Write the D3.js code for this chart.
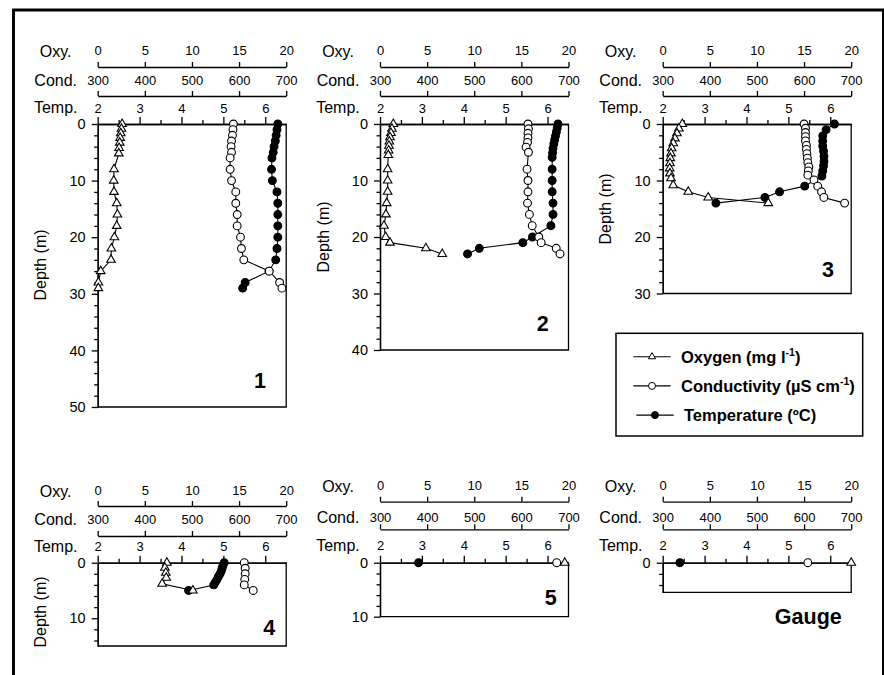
<!DOCTYPE html>
<html>
<head>
<meta charset="utf-8">
<script src="https://cdn.jsdelivr.net/npm/d3@7"></script>
<style>
	body { margin: 0; background: #fff; }
	text { font-family: 'Liberation Sans', Arial, sans-serif; fill: #000; }
</style>
</head>
<body>
<svg id="chart" width="884" height="675"></svg>
<script>
'use strict'

// labelled ticks of the three stacked x axes
const oxyTicks = [0, 5, 10, 15, 20]
const condTicks = [300, 400, 500, 600, 700]
const tempTicks = [2, 3, 4, 5, 6]

// site 1
const oxyDepth1 = [0, 0.85, 1.65, 2.45, 3.3, 4.25, 5.2, 8, 10, 12, 14, 16, 18, 20, 22, 24, 26, 28, 29]
const oxy1 = [2.59, 2.52, 2.45, 2.38, 2.34, 2.27, 2.24, 1.73, 1.70, 1.73, 2.02, 2.09, 2.02, 1.77, 1.45, 1.41, 0.32, 0.07, 0.07]
const condDepth1 = [0, 1, 2, 3, 4, 5, 6, 8, 10, 12, 14, 16, 18, 20, 22, 24, 26, 28, 29]
const cond1 = [588, 587, 586, 584, 583, 584, 581, 581, 584, 593, 593, 596, 596, 603, 605, 610, 664, 686, 691]
const tempDepth1 = [0, 1, 2, 3, 4, 5, 6, 8, 10, 12, 14, 16, 18, 20, 22, 24, 26, 28, 29]
const temp1 = [6.30, 6.28, 6.26, 6.24, 6.21, 6.19, 6.16, 6.15, 6.17, 6.28, 6.30, 6.30, 6.30, 6.30, 6.28, 6.25, 6.09, 5.52, 5.46]

// site 2
const oxyDepth2 = [0, 0.85, 1.6, 2.35, 3.1, 3.85, 4.7, 5.5, 8, 10, 12, 14, 16, 18, 20, 21, 22, 23]
const oxy2 = [1.41, 1.27, 1.16, 1.06, 0.99, 0.95, 0.92, 0.88, 0.81, 0.81, 0.81, 0.71, 0.63, 0.42, 0.60, 1.06, 4.87, 6.6]
const condDepth2 = [0, 0.85, 1.65, 2.45, 3.25, 4.1, 5.0, 8, 10, 12, 14, 16, 18, 20, 21, 22, 23]
const cond2 = [614, 615, 614, 614, 613, 610, 615, 612, 614, 614, 613, 617, 623, 637, 642, 674, 682]
const tempDepth2 = [0, 0.7, 1.4, 2.1, 2.8, 3.5, 4.3, 5.1, 5.9, 8, 10, 12, 14, 16, 18, 20, 21, 22, 23]
const temp2 = [6.25, 6.23, 6.21, 6.19, 6.17, 6.15, 6.13, 6.12, 6.11, 6.11, 6.11, 6.11, 6.13, 6.13, 6.08, 5.64, 5.41, 4.37, 4.09]

// site 3
const oxyDepth3 = [0, 0.8, 1.65, 2.55, 3.4, 4.3, 5.2, 6.05, 6.95, 7.85, 8.75, 9.6, 10.85, 12, 13, 14]
const oxy3 = [2.08, 1.72, 1.51, 1.30, 1.12, 0.95, 0.88, 0.81, 0.77, 0.74, 0.77, 0.88, 1.12, 2.71, 4.83, 11.2]
const condDepth3 = [0, 0.75, 1.5, 2.25, 3, 3.8, 4.5, 5.25, 6.05, 6.85, 7.6, 8.3, 9.05, 9.9, 11, 12, 13, 14]
const cond3 = [600, 603, 603, 603, 603, 605, 605, 606, 607, 608, 610, 609, 608, 621, 629, 637, 642, 686]
const tempDepth3 = [0, 1, 2.1, 3, 3.9, 4.8, 5.7, 6.6, 7.4, 8.3, 9.2, 11, 12, 13, 14]
const temp3 = [6.10, 5.90, 5.82, 5.82, 5.82, 5.84, 5.85, 5.85, 5.84, 5.82, 5.80, 5.39, 4.79, 4.44, 3.27]

// site 4
const oxyDepth4 = [0, 0.9, 1.8, 2.7, 3.8, 5]
const oxy4 = [7.34, 7.13, 7.23, 7.27, 6.84, 10.1]
const condDepth4 = [0, 1, 2, 3, 4, 5]
const cond4 = [611, 613, 613, 612, 611, 630]
const tempDepth4 = [0, 0.5, 1, 1.5, 2, 2.5, 3, 3.5, 4, 5]
const temp4 = [5.02, 4.99, 4.97, 4.95, 4.92, 4.88, 4.85, 4.81, 4.77, 4.17]

// site 5 and the gauge, surface only
const surfaceDepth = [0]
const oxy5 = [19.6]
const cond5 = [675]
const temp5 = [2.92]
const oxyGauge = [20]
const condGauge = [608]
const tempGauge = [2.41]

const siteNames = ['1', '2', '3', '4', '5', 'Gauge']
const sites = [
	{oxy: [oxyDepth1, oxy1], cond: [condDepth1, cond1], temp: [tempDepth1, temp1]},
	{oxy: [oxyDepth2, oxy2], cond: [condDepth2, cond2], temp: [tempDepth2, temp2]},
	{oxy: [oxyDepth3, oxy3], cond: [condDepth3, cond3], temp: [tempDepth3, temp3]},
	{oxy: [oxyDepth4, oxy4], cond: [condDepth4, cond4], temp: [tempDepth4, temp4]},
	{oxy: [surfaceDepth, oxy5], cond: [surfaceDepth, cond5], temp: [surfaceDepth, temp5]},
	{oxy: [surfaceDepth, oxyGauge], cond: [surfaceDepth, condGauge], temp: [surfaceDepth, tempGauge]}
]

// where each panel sits on the page
const layout = [
	{left: 97.7, top: 124, bottom: 407, maxDepth: 50, oxyY: 67, oxyLabY: 55, condY: 96, condLabY: 85, tempLabY: 112.5, depthTitleY: 265, labelX: 260, labelY: 388},
	{left: 380, top: 124, bottom: 350, maxDepth: 40, oxyY: 67, oxyLabY: 55, condY: 96, condLabY: 85, tempLabY: 112.5, depthTitleY: 237, labelX: 542.7, labelY: 331},
	{left: 662.7, top: 124, bottom: 293.5, maxDepth: 30, oxyY: 67, oxyLabY: 55, condY: 96, condLabY: 85, tempLabY: 112.5, depthTitleY: 209, labelX: 828, labelY: 277},
	{left: 97.7, top: 562.7, bottom: 646, maxDepth: 15, oxyY: 506, oxyLabY: 495, condY: 536, condLabY: 523.5, tempLabY: 551, depthTitleY: 612, labelX: 269.3, labelY: 634.5},
	{left: 380, top: 562.7, bottom: 616.7, maxDepth: 10, oxyY: 501.7, oxyLabY: 490, condY: 529.3, condLabY: 521.7, tempLabY: 550, depthTitleY: null, labelX: 550.7, labelY: 605},
	{left: 662.7, top: 562.7, bottom: 592.3, maxDepth: 5.3, oxyY: 501.7, oxyLabY: 490, condY: 529.3, condLabY: 522, tempLabY: 550, depthTitleY: null, labelX: 808.3, labelY: 623.5}
]
const panelWidth = 188.5

const svg = d3.select('#chart')

// outer frame
svg.append('rect')
	.attr('x', 13.5).attr('y', 10)
	.attr('width', 870).attr('height', 700)
	.attr('fill', 'none')
	.attr('stroke', '#000')
	.attr('stroke-width', 3)

function toPoints(pair) {
	return d3.zip(pair[0], pair[1]).map(function(p) { return {d: p[0], v: p[1]} })
}

function drawSeries(g, points, x, y, kind) {
	let line = d3.line()
		.x(function(p) { return x(p.v) })
		.y(function(p) { return y(p.d) })
	g.append('path')
		.attr('d', line(points))
		.attr('fill', 'none')
		.attr('stroke', '#000')
		.attr('stroke-width', 1.1)
	if (kind === 'oxy') {
		g.selectAll(null).data(points).enter().append('path')
			.attr('d', d3.symbol(d3.symbolTriangle, 32))
			.attr('transform', function(p) { return 'translate(' + x(p.v) + ',' + y(p.d) + ')' })
			.attr('fill', '#fff')
			.attr('stroke', '#000')
			.attr('stroke-width', 1.1)
	}
	else {
		g.selectAll(null).data(points).enter().append('circle')
			.attr('cx', function(p) { return x(p.v) })
			.attr('cy', function(p) { return y(p.d) })
			.attr('r', 3.9)
			.attr('fill', kind === 'temp' ? '#000' : '#fff')
			.attr('stroke', '#000')
			.attr('stroke-width', 1.1)
	}
}

function styleAxis(g, fontSize) {
	g.select('.domain').attr('stroke-width', 1.3)
	g.selectAll('.tick line').attr('stroke-width', 1.3)
	g.selectAll('text')
		.attr('font-size', fontSize)
		.attr('font-family', "'Liberation Sans', Arial, sans-serif")
}

function drawPanel(site, p, name) {
	let right = p.left + panelWidth
	let xOxy = d3.scaleLinear().domain([0, 20]).range([p.left, right])
	let xCond = d3.scaleLinear().domain([300, 700]).range([p.left, right])
	let xTemp = d3.scaleLinear().domain([2, 6.5]).range([p.left, right])
	let y = d3.scaleLinear().domain([0, p.maxDepth]).range([p.top, p.bottom])
	let g = svg.append('g').attr('class', 'panel')
	let whole = d3.format('d')

	// stacked top axes
	let oxyAxis = g.append('g')
		.attr('transform', 'translate(0,' + p.oxyY + ')')
		.call(d3.axisTop(xOxy).tickValues(oxyTicks).tickSize(5).tickSizeOuter(0).tickFormat(whole))
	oxyAxis.selectAll('text').attr('y', p.oxyLabY - p.oxyY).attr('dy', 0)
	styleAxis(oxyAxis, 13)

	let condAxis = g.append('g')
		.attr('transform', 'translate(0,' + p.condY + ')')
		.call(d3.axisTop(xCond).tickValues(condTicks).tickSize(5).tickSizeOuter(0).tickFormat(whole))
	condAxis.selectAll('text').attr('y', p.condLabY - p.condY).attr('dy', 0)
	styleAxis(condAxis, 13)

	let tempMinor = g.append('g')
		.attr('transform', 'translate(0,' + p.top + ')')
		.call(d3.axisTop(xTemp).tickValues([2.5, 3.5, 4.5, 5.5]).tickSize(4).tickSizeOuter(0).tickFormat(''))
	styleAxis(tempMinor, 13)
	let tempAxis = g.append('g')
		.attr('transform', 'translate(0,' + p.top + ')')
		.call(d3.axisTop(xTemp).tickValues(tempTicks).tickSize(7).tickSizeOuter(0).tickFormat(whole))
	tempAxis.selectAll('text').attr('y', p.tempLabY - p.top).attr('dy', 0)
	styleAxis(tempAxis, 13)

	let names = [['Oxy.', p.oxyLabY + 1.5], ['Cond.', p.condLabY + 1], ['Temp.', p.tempLabY + 0.5]]
	g.selectAll(null).data(names).enter().append('text')
		.attr('x', p.left - 42)
		.attr('y', function(n) { return n[1] })
		.attr('text-anchor', 'middle')
		.attr('font-size', 16)
		.text(function(n) { return n[0] })

	// depth axis
	let majors = d3.range(0, p.maxDepth + 0.01, 10)
	let minors = d3.range(2, p.maxDepth, 2).filter(function(v) { return v % 10 !== 0 })
	let depthMinor = g.append('g')
		.attr('transform', 'translate(' + p.left + ',0)')
		.call(d3.axisLeft(y).tickValues(minors).tickSize(3.5).tickSizeOuter(0).tickFormat(''))
	styleAxis(depthMinor, 14)
	let depthAxis = g.append('g')
		.attr('transform', 'translate(' + p.left + ',0)')
		.call(d3.axisLeft(y).tickValues(majors).tickSize(6).tickPadding(6).tickSizeOuter(0).tickFormat(whole))
	styleAxis(depthAxis, 14.5)

	// right and bottom sides of the box
	g.append('path')
		.attr('d', 'M' + right + ',' + p.top + 'V' + p.bottom + 'H' + p.left)
		.attr('fill', 'none')
		.attr('stroke', '#000')
		.attr('stroke-width', 1.3)

	if (p.depthTitleY !== null) {
		g.append('text')
			.attr('transform', 'translate(' + (p.left - 57) + ',' + p.depthTitleY + ') rotate(-90)')
			.attr('text-anchor', 'middle')
			.attr('dy', '0.35em')
			.attr('font-size', 16)
			.text('Depth (m)')
	}

	g.append('text')
		.attr('x', p.labelX)
		.attr('y', p.labelY)
		.attr('text-anchor', 'middle')
		.attr('font-size', 21.5)
		.attr('font-weight', 'bold')
		.text(name)

	drawSeries(g, toPoints(site.temp), xTemp, y, 'temp')
	drawSeries(g, toPoints(site.oxy), xOxy, y, 'oxy')
	drawSeries(g, toPoints(site.cond), xCond, y, 'cond')
}

sites.forEach(function(site, i) {
	drawPanel(site, layout[i], siteNames[i])
})

// legend
const legendItems = [
	{kind: 'oxy', text: 'Oxygen (mg l', sup: '-1', tail: ')'},
	{kind: 'cond', text: 'Conductivity (\u00b5S cm', sup: '-1', tail: ')'},
	{kind: 'temp', text: 'Temperature (\u00baC)', sup: '', tail: ''}
]
let legend = svg.append('g')
legend.append('rect')
	.attr('x', 616).attr('y', 333.3)
	.attr('width', 246.7).attr('height', 102.7)
	.attr('fill', '#fff')
	.attr('stroke', '#000')
	.attr('stroke-width', 1.5)
legendItems.forEach(function(item, i) {
	let cy = 356.7 + i * 29.2
	let shift = item.kind === 'temp' ? 3 : 0
	let row = legend.append('g').attr('transform', 'translate(' + shift + ',' + cy + ')')
	row.append('line')
		.attr('x1', 633.3).attr('x2', 670.7)
		.attr('stroke', '#000').attr('stroke-width', 1.1)
	if (item.kind === 'oxy') {
		row.append('path')
			.attr('d', d3.symbol(d3.symbolTriangle, 22))
			.attr('transform', 'translate(652,0)')
			.attr('fill', '#fff').attr('stroke', '#000')
	}
	else {
		row.append('circle')
			.attr('cx', 652).attr('r', 3.5)
			.attr('fill', item.kind === 'temp' ? '#000' : '#fff')
			.attr('stroke', '#000')
	}
	let t = row.append('text')
		.attr('x', 681)
		.attr('y', 6)
		.attr('font-size', 16.5)
		.attr('font-weight', 'bold')
	t.append('tspan').text(item.text)
	if (item.sup) {
		t.append('tspan').attr('dy', -6.5).attr('font-size', 10.5).text(item.sup)
		t.append('tspan').attr('dy', 6.5).text(item.tail)
	}
})
</script>
</body>
</html>
